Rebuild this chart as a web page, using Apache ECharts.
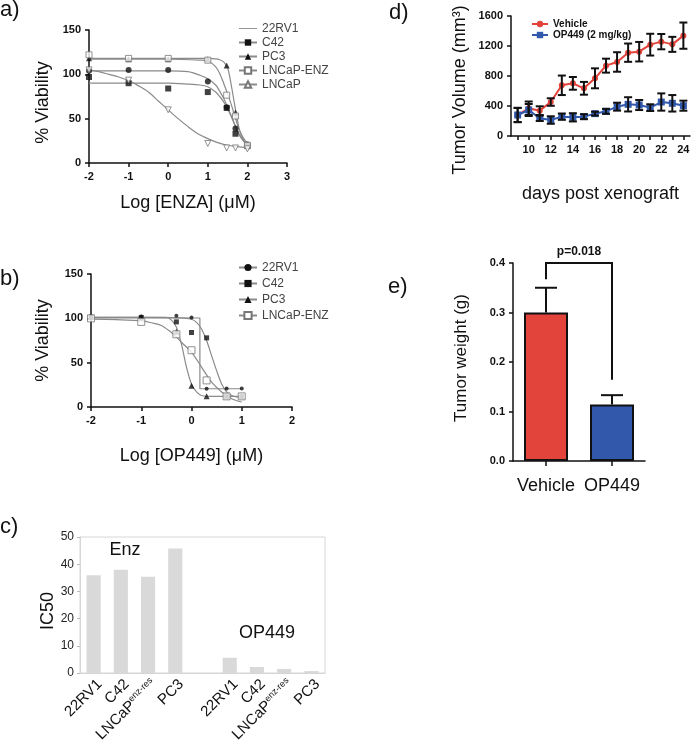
<!DOCTYPE html>
<html><head><meta charset="utf-8">
<script src="https://cdn.jsdelivr.net/npm/echarts@6/dist/echarts.min.js"></script>
<style>html,body{margin:0;padding:0;background:#fff}#c{width:697px;height:740px}</style>
</head><body><div id="c"></div>
<script>
// ---------- Panel a: Enzalutamide dose response ----------
const aDoseLog = [-2, -1, 0, 1, 1.477, 1.699, 2];
const a22RV1 = [104, 105, 105, 92, 63, 39, 21];
const aC42 = [97, 90, 84, 80, 62, 33, 19];
const aPC3 = [118, 117, 117, 117, 110, 57, 21];
const aLNCaPENZ = [122, 118, 118, 116, 76.5, 53, 20];
const aLNCaP = [105, 93.5, 60, 22, 17, 17, 16];
const aFit22RV1 = [[-2,104],[-1,104],[0,104],[0.5,103],[0.8,99],[1,95],[1.2,88],[1.3,81],[1.4,73],[1.5,63],[1.6,52],[1.7,41],[1.8,31],[1.9,25],[2,20]];
const aFitC42 = [[-2,90],[-1,90],[0,90],[0.5,89],[0.8,88],[1,86],[1.2,80],[1.3,75],[1.4,69],[1.5,61],[1.6,52],[1.7,41.5],[1.8,32],[1.9,25],[2,20]];
const aFitPC3 = [[-2,118],[0,118],[1,118],[1.2,117.5],[1.3,116.5],[1.4,114],[1.5,107],[1.55,98],[1.6,86],[1.65,73],[1.7,60],[1.75,48],[1.8,37],[1.9,26],[2,20]];
const aFitLNCaPENZ = [[-2,117],[0,117],[0.8,116],[1,115],[1.2,108.5],[1.3,101],[1.4,90],[1.5,78],[1.6,65],[1.7,50],[1.8,37],[1.9,28],[2,22]];
const aFitLNCaP = [[-2,105],[-1.75,103],[-1.5,100],[-1.25,97],[-1,93],[-0.75,87],[-0.5,80],[-0.25,70],[0,60],[0.25,50],[0.5,41],[0.75,33],[1,27.5],[1.25,23],[1.5,20],[1.75,18.5],[2,17.3]];

// ---------- Panel b: OP449 dose response ----------
const bDoseLog = [-2, -1, -0.301, 0, 0.301, 0.699, 1];
const b22RV1 = [103, 102, 103, 101, 20.6, 21, 21];
const bC42 = [101, 101, 96, 84, 78, 13, 12];
const bPC3 = [102, 101, 85, 24, 12, 12, 12];
const bLNCaPENZ = [100, 96, 82, 64, 30, 12, 12];
const bFit22RV1 = [[-2,100.4],[0.167,100.4],[0.167,20.6],[1,20.6]];
const bFitC42 = [[-2,101],[-1,101],[-0.2,100.5],[0,99],[0.1,95.5],[0.2,88],[0.3,75],[0.4,58],[0.5,41],[0.6,26],[0.7,17],[0.8,13],[0.9,11.5],[1,11]];
const bFitPC3 = [[-2,101],[-1,101],[-0.5,101],[-0.4,98],[-0.3,90],[-0.2,71],[-0.1,45],[0,26],[0.1,17],[0.2,13],[0.4,12],[1,12]];
const bFitLNCaPENZ = [[-2,99],[-1.5,98.5],[-1,97.4],[-0.8,95],[-0.6,92],[-0.4,84],[-0.3,79],[-0.2,73],[0,62],[0.2,45],[0.4,28],[0.6,17],[0.8,9.4],[1,5.6]];

// ---------- Panel c: IC50 ----------
const cCategories = ['22RV1','C42','LNCaP','PC3','','22RV1','C42','LNCaP','PC3'];
const cSup = ['','','enz-res','','','','','enz-res',''];
const cIC50 = [35.9, 38, 35.4, 45.8, null, 5.6, 2.2, 1.5, 0.7];
const cGroups = ['Enz', 'OP449'];

// ---------- Panel d: tumor volume ----------
const dDays = [9,10,11,12,13,14,15,16,17,18,19,20,21,22,23,24];
const dTickLabels = [10,12,14,16,18,20,22,24];
const dVehicle = [280,370,338,453,676,702,636,769,938,987,1111,1124,1218,1258,1222,1338];
const dVehicleErr = [95,90,58,50,130,85,85,133,93,130,122,130,145,102,100,175];
const dOP449 = [280,347,236,213,258,249,258,298,329,391,422,413,378,453,436,404];
const dOP449Err = [95,80,36,50,42,55,33,25,33,53,95,67,45,115,110,67];

// ---------- Panel e: tumor weight ----------
const eGroups = ['Vehicle', 'OP449'];
const eWeight = [0.30, 0.114];
const eErr = [0.05, 0.019];
const eBracket = [0.367, 0.40, 0.164]; // left leg bottom, top, right leg bottom
const ePText = 'p=0.018';

const FONT = "'Liberation Sans', Arial, Helvetica, sans-serif";
const RED = '#e2433a', BLUE = '#3158ab';
const tickLbl = {fontFamily: FONT, fontWeight: 'bold', fontSize: 11, color: '#111'};
const nameTxt = {fontFamily: FONT, fontSize: 18, color: '#111'};
const blackLine = {show: true, onZero: false, lineStyle: {color: '#111', width: 1.5}};
const blackTick = {show: true, length: 4, lineStyle: {color: '#111', width: 1.5}};

const pairs = (xs, ys) => xs.map((x, i) => [x, ys[i]]);
const chart = echarts.init(document.getElementById('c'));

function fitSeries(name, data, idx, sym, symSize, itemStyle, smooth) {
  return {type: 'line', name, data, xAxisIndex: idx, yAxisIndex: idx, smooth: smooth,
    showSymbol: false, symbol: sym, symbolSize: symSize, itemStyle, lineStyle: {color: '#8a8a8a', width: 1.2},
    emphasis: {disabled: true}, z: 2, silent: true};
}
function ptSeries(name, data, idx, sym, symSize, itemStyle, rot) {
  return {type: 'scatter', name, data, xAxisIndex: idx, yAxisIndex: idx, symbol: sym, symbolSize: symSize,
    symbolRotate: rot || 0, itemStyle, z: 3, silent: true};
}
function errRender(params, api) {
  const x = api.value(0);
  const p1 = api.coord([x, api.value(1)]), p2 = api.coord([x, api.value(2)]);
  const w = api.value(3);
  const st = {stroke: '#111', lineWidth: 2};
  const ch = [{type: 'line', shape: {x1: p1[0], y1: p1[1], x2: p2[0], y2: p2[1]}, style: st},
              {type: 'line', shape: {x1: p2[0]-w, y1: p2[1], x2: p2[0]+w, y2: p2[1]}, style: st}];
  if (api.value(4)) ch.push({type: 'line', shape: {x1: p1[0]-w, y1: p1[1], x2: p1[0]+w, y2: p1[1]}, style: st});
  return {type: 'group', children: ch};
}
const solid = {color: '#111'};
const hollow = {color: '#fff', borderColor: '#777', borderWidth: 1};

const option = {
  animation: false,
  textStyle: {fontFamily: FONT},
  grid: [
    {left: 89, top: 30, width: 198, height: 133},
    {left: 91, top: 274, width: 201, height: 133},
    {left: 80, top: 537, width: 245, height: 136, show: true, borderColor: '#d6d6d6', borderWidth: 1},
    {left: 511, top: 16, width: 179, height: 120},
    {left: 513, top: 263, width: 132, height: 198}
  ].map(g => Object.assign({containLabel: false, outerBoundsMode: 'none'}, g)),
  xAxis: [
    {gridIndex: 0, type: 'value', min: -2, max: 3, interval: 1, axisLine: blackLine, axisTick: blackTick,
     axisLabel: tickLbl, splitLine: {show: false}, name: 'Log [ENZA] (\u03bcM)', nameLocation: 'middle', nameGap: 31, nameTextStyle: nameTxt},
    {gridIndex: 1, type: 'value', min: -2, max: 2, interval: 1, axisLine: blackLine, axisTick: blackTick,
     axisLabel: tickLbl, splitLine: {show: false}, name: 'Log [OP449] (\u03bcM)', nameLocation: 'middle', nameGap: 40, nameTextStyle: nameTxt},
    {gridIndex: 2, type: 'category', data: cCategories, axisLine: {onZero: false, lineStyle: {color: '#d6d6d6'}}, axisTick: {show: false},
     axisLabel: {interval: 0, rotate: 45, margin: 3, verticalAlign: 'top', color: '#111',
       formatter: (v, i) => '{m|' + v + '}' + (cSup[i] ? '{s|' + cSup[i] + '}' : ''),
       rich: {m: {fontSize: 15, fontFamily: FONT, color: '#111', lineHeight: 17},
              s: {fontSize: 9, fontFamily: FONT, color: '#111', verticalAlign: 'top', lineHeight: 17, padding: [0,0,7,0]}}},
     splitLine: {show: false}},
    {gridIndex: 3, type: 'value', min: 8.4, max: 24.6, axisLine: blackLine,
     axisTick: {show: true, length: 4, lineStyle: {color: '#111', width: 1.5}, customValues: dDays},
     axisLabel: Object.assign({customValues: dTickLabels}, tickLbl), splitLine: {show: false},
     name: 'days post xenograft', nameLocation: 'middle', nameGap: 49, nameTextStyle: nameTxt},
    {gridIndex: 4, type: 'category', data: eGroups, axisLine: blackLine,
     axisTick: {show: true, alignWithLabel: true, length: 5, lineStyle: {color: '#111', width: 1.5}},
     axisLabel: {interval: 0, fontFamily: FONT, fontSize: 18, color: '#111', margin: 16}}
  ],
  yAxis: [
    {gridIndex: 0, type: 'value', min: 0, max: 150, interval: 50, axisLine: blackLine, axisTick: blackTick,
     axisLabel: tickLbl, splitLine: {show: false}, name: '% Viability', nameLocation: 'middle', nameGap: 37,
     nameTextStyle: Object.assign({padding: [0, 12, 0, 0]}, nameTxt)},
    {gridIndex: 1, type: 'value', min: 0, max: 150, interval: 50, axisLine: blackLine, axisTick: blackTick,
     axisLabel: tickLbl, splitLine: {show: false}, name: '% Viability', nameLocation: 'middle', nameGap: 39, nameTextStyle: nameTxt},
    {gridIndex: 2, type: 'value', min: 0, max: 50, interval: 10, axisLine: {show: true, onZero: false, lineStyle: {color: '#d6d6d6'}},
     axisTick: {show: true, length: 3, lineStyle: {color: '#bbb'}},
     axisLabel: {fontFamily: FONT, fontSize: 12, color: '#222', margin: 6}, splitLine: {show: false},
     name: 'IC50', nameLocation: 'middle', nameGap: 22, nameTextStyle: Object.assign({padding: [0, 12, 0, 0]}, nameTxt)},
    {gridIndex: 3, type: 'value', min: 0, max: 1600, interval: 400, axisLine: blackLine, axisTick: blackTick,
     axisLabel: Object.assign({formatter: v => String(v)}, tickLbl), splitLine: {show: false}},
    {gridIndex: 4, type: 'value', min: 0, max: 0.4, interval: 0.1, axisLine: blackLine, axisTick: blackTick,
     axisLabel: Object.assign({formatter: v => v.toFixed(1)}, tickLbl), splitLine: {show: false},
     name: 'Tumor weight (g)', nameLocation: 'middle', nameGap: 43,
     nameTextStyle: Object.assign({}, nameTxt, {fontSize: 17, padding: [0, 0, 0, 8]})}
  ],
  legend: [
    {left: 233, top: 17, orient: 'vertical', itemWidth: 18, itemHeight: 8, itemGap: 1,
     data: [{name: 'a:22RV1', icon: 'path://M0,0L20,0L20,1L0,1Z', itemStyle: {color: '#8a8a8a'}}, 'a:C42', 'a:PC3', 'a:LNCaP-ENZ', 'a:LNCaP'],
     formatter: n => n.split(':')[1], textStyle: {fontFamily: FONT, fontSize: 12, lineHeight: 13, color: '#444'}, selectedMode: false},
    {left: 233, top: 256, orient: 'vertical', itemWidth: 18, itemHeight: 9, itemGap: 3,
     data: ['b:22RV1', 'b:C42', 'b:PC3', 'b:LNCaP-ENZ'],
     formatter: n => n.split(':')[1], textStyle: {fontFamily: FONT, fontSize: 12, lineHeight: 13, color: '#444'}, selectedMode: false},
    {left: 526, top: 14, orient: 'vertical', itemWidth: 16, itemHeight: 8, itemGap: 1,
     data: ['Vehicle', 'OP449 (2 mg/kg)'],
     textStyle: {fontFamily: FONT, fontSize: 10, lineHeight: 10, fontWeight: 'bold', color: '#111'}, selectedMode: false}
  ],
  series: [
    // panel a
    fitSeries('a:22RV1', aFit22RV1, 0, 'none', 0, solid, 0.3),
    fitSeries('a:C42', aFitC42, 0, 'rect', 5, solid, 0.3),
    fitSeries('a:PC3', aFitPC3, 0, 'triangle', 6, solid, 0.3),
    fitSeries('a:LNCaP-ENZ', aFitLNCaPENZ, 0, 'rect', 6, hollow, 0.3),
    fitSeries('a:LNCaP', aFitLNCaP, 0, 'triangle', 6, Object.assign({}, hollow), 0.3),
    ptSeries('a:22RV1', pairs(aDoseLog, a22RV1), 0, 'circle', 6, solid),
    ptSeries('a:C42', pairs(aDoseLog, aC42), 0, 'rect', 6, solid),
    ptSeries('a:PC3', pairs(aDoseLog, aPC3), 0, 'triangle', 6, solid),
    ptSeries('a:LNCaP-ENZ', pairs(aDoseLog, aLNCaPENZ), 0, 'rect', 6, hollow),
    ptSeries('a:LNCaP', pairs(aDoseLog, aLNCaP), 0, 'triangle', 6, hollow, 180),
    // panel b
    fitSeries('b:22RV1', bFit22RV1, 1, 'circle', 4, solid, false),
    fitSeries('b:C42', bFitC42, 1, 'rect', 5, solid, 0.3),
    fitSeries('b:PC3', bFitPC3, 1, 'triangle', 6, solid, 0.3),
    fitSeries('b:LNCaP-ENZ', bFitLNCaPENZ, 1, 'rect', 6, hollow, 0.3),
    ptSeries('b:22RV1', pairs(bDoseLog, b22RV1), 1, 'circle', 4, solid),
    ptSeries('b:C42', pairs(bDoseLog, bC42), 1, 'rect', 5, solid),
    ptSeries('b:PC3', pairs(bDoseLog, bPC3), 1, 'triangle', 6, solid),
    ptSeries('b:LNCaP-ENZ', pairs(bDoseLog, bLNCaPENZ), 1, 'rect', 7, hollow),
    // panel c
    {type: 'bar', name: 'IC50', data: cIC50, xAxisIndex: 2, yAxisIndex: 2, barWidth: '52%',
     itemStyle: {color: '#d9d9d9'}, silent: true},
    // panel d
    {type: 'custom', xAxisIndex: 3, yAxisIndex: 3, renderItem: errRender, z: 5, silent: true,
     data: dDays.map((d, i) => [d, dVehicle[i] - dVehicleErr[i], dVehicle[i] + dVehicleErr[i], 4, 1])},
    {type: 'custom', xAxisIndex: 3, yAxisIndex: 3, renderItem: errRender, z: 5, silent: true,
     data: dDays.map((d, i) => [d, dOP449[i] - dOP449Err[i], dOP449[i] + dOP449Err[i], 4, 1])},
    {type: 'line', name: 'Vehicle', data: pairs(dDays, dVehicle), xAxisIndex: 3, yAxisIndex: 3,
     symbol: 'circle', symbolSize: 6, showAllSymbol: true, itemStyle: {color: RED}, lineStyle: {color: RED, width: 2}, z: 3, silent: true},
    {type: 'line', name: 'OP449 (2 mg/kg)', data: pairs(dDays, dOP449), xAxisIndex: 3, yAxisIndex: 3,
     symbol: 'rect', symbolSize: 7, showAllSymbol: true, itemStyle: {color: BLUE}, lineStyle: {color: BLUE, width: 2}, z: 3, silent: true},
    // panel e
    {type: 'custom', xAxisIndex: 4, yAxisIndex: 4, renderItem: errRender, z: 1, silent: true,
     data: eWeight.map((v, i) => [i, v, v + eErr[i], 11, 0])},
    {type: 'bar', name: 'weight', xAxisIndex: 4, yAxisIndex: 4, barWidth: 44, z: 2, silent: true,
     data: eWeight.map((v, i) => ({value: v, itemStyle: {color: i === 0 ? RED : BLUE}})),
     itemStyle: {borderColor: '#111', borderWidth: 2}},
    {type: 'custom', xAxisIndex: 4, yAxisIndex: 4, z: 5, silent: true, data: [eBracket],
     renderItem: function (params, api) {
       const a = api.coord([0, api.value(0)]), t1 = api.coord([0, api.value(1)]);
       const t2 = api.coord([1, api.value(1)]), b = api.coord([1, api.value(2)]);
       return {type: 'group', children: [
         {type: 'polyline', shape: {points: [a, t1, t2, b]}, style: {stroke: '#111', lineWidth: 2, fill: null}},
         {type: 'text', x: (t1[0] + t2[0]) / 2, y: t1[1] - 5,
          style: {text: ePText, fontFamily: FONT, fontSize: 12, fontWeight: 'bold', fill: '#111', align: 'center', verticalAlign: 'bottom'}}
       ]};
     }}
  ],
  graphic: [
    {type: 'text', x: 0, y: 10, style: {text: 'a)', fontFamily: FONT, fontSize: 22, fill: '#111', verticalAlign: 'middle'}},
    {type: 'text', x: 0, y: 279, style: {text: 'b)', fontFamily: FONT, fontSize: 22, fill: '#111', verticalAlign: 'middle'}},
    {type: 'text', x: 0, y: 527, style: {text: 'c)', fontFamily: FONT, fontSize: 22, fill: '#111', verticalAlign: 'middle'}},
    {type: 'text', x: 389, y: 13, style: {text: 'd)', fontFamily: FONT, fontSize: 22, fill: '#111', verticalAlign: 'middle'}},
    {type: 'text', x: 388, y: 287, style: {text: 'e)', fontFamily: FONT, fontSize: 22, fill: '#111', verticalAlign: 'middle'}},
    {type: 'text', x: 460, y: 90, rotation: Math.PI / 2,
     style: {text: 'Tumor Volume (mm\u00b3)', fontFamily: FONT, fontSize: 18, fill: '#111', align: 'center', verticalAlign: 'middle'}},
    {type: 'text', x: 125, y: 550, style: {text: cGroups[0], fontFamily: FONT, fontSize: 18, fill: '#111', align: 'center', verticalAlign: 'middle'}},
    {type: 'text', x: 267, y: 633, style: {text: cGroups[1], fontFamily: FONT, fontSize: 18, fill: '#111', align: 'center', verticalAlign: 'middle'}}
  ]
};
chart.setOption(option);
</script>
</body></html>
